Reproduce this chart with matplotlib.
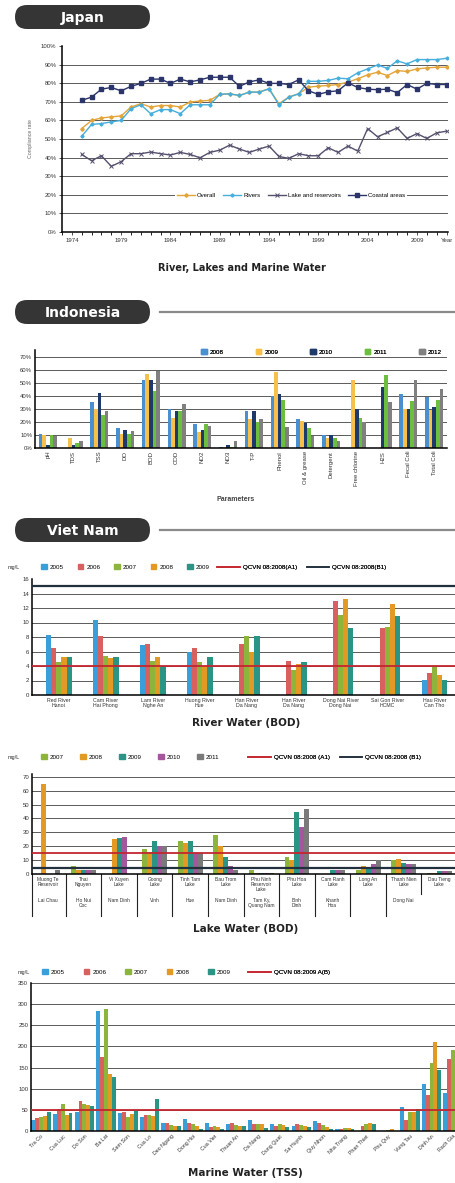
import numpy as np
import matplotlib
matplotlib.use('Agg')
import matplotlib.pyplot as plt
from matplotlib.patches import FancyBboxPatch, Patch
from matplotlib.lines import Line2D

plt.rcParams['font.family'] = ['Liberation Sans', 'DejaVu Sans']

W, H = 455, 1183

# ---------------- Japan: compliance rate (%)
jp_years = list(range(1975, 2013))
jp_overall = [55.6, 60, 61.3, 61.9, 62.4, 67.2, 69, 67.2, 68, 68, 67.2, 69.9, 70.4, 70.8,
              74, 74.3, 73.4, 75.2, 75.2, 77, 69, 72.5, 74.3, 77.9, 78.4, 78.8, 79.3, 80.6,
              82.4, 84.5, 85.9, 84.1, 86.8, 86.3, 87.7, 88.2, 88.6, 88.6]
jp_rivers = [51.5, 57.8, 58.3, 59.2, 60, 66.3, 68.4, 63.6, 65.8, 65.8, 63.6, 68.4, 68.4, 68.4,
             74, 74.3, 73.4, 75.2, 75.2, 77, 68.4, 72.5, 74.3, 81, 81, 81.5, 82.7, 82.4,
             85.6, 87.7, 89.8, 88, 92, 90.4, 92.7, 92.7, 92.7, 93.4]
jp_lakes = [41.7, 38.3, 41, 35.3, 37.8, 42.1, 42.1, 43, 42.1, 41.4, 42.8, 41.7, 39.9, 42.8,
            44, 46.7, 44.6, 42.8, 44.6, 46.2, 40.6, 39.6, 42.1, 41, 41, 45.3, 42.8, 46.2,
            43.5, 55.6, 51.2, 53.5, 56, 50.3, 52.9, 50.3, 53.3, 54.2]
jp_coastal = [70.8, 72.5, 76.8, 77.7, 75.9, 78.3, 79.9, 82.2, 82.2, 79.9, 82.2, 80.7, 81.8, 83.2,
              83.2, 83.2, 78.3, 80.7, 81.8, 79.9, 79.9, 79.3, 81.8, 75.9, 74, 75.4, 75.9, 80.2,
              77.7, 76.8, 76.5, 76.8, 74.9, 79.3, 76.8, 79.9, 79.3, 79.3]
jp_ticks = [1974, 1979, 1984, 1989, 1994, 1999, 2004, 2009, 2012]
jp_ticklabels = ['1974', '1979', '1984', '1989', '1994', '1999', '2004', '2009', 'Year']

# ---------------- Indonesia: % exceeding
id_params = ['pH', 'TDS', 'TSS', 'DO', 'BOD', 'COD', 'NO2', 'NO3', 'T-P', 'Phenol',
             'Oil & grease', 'Detergent', 'Free chlorine', 'H2S', 'Fecal Coli', 'Total Coli']
id_years = ['2008', '2009', '2010', '2011', '2012']
id_2008 = [11, 0, 35, 15, 52, 30, 18, 1, 28, 40, 22, 10, 0, 0, 41, 39]
id_2009 = [10, 7.5, 30, 11, 57, 23, 12.5, 1, 22, 58, 21, 8, 52, 0, 30, 29]
id_2010 = [2.5, 2.5, 42, 14, 52, 28, 14, 2.5, 28, 41, 19, 10, 30, 47, 30, 31]
id_2011 = [10, 3.5, 25, 11, 44, 28, 18, 1, 20, 37, 15, 8, 23, 56, 36, 37]
id_2012 = [9, 5, 28, 13, 59, 34, 17, 5, 22, 16, 9, 5.5, 20, 35, 52, 45]

# ---------------- Viet Nam: river water BOD (mg/L)
rv_names = ['Red River\nHanoi', 'Cam River\nHai Phong', 'Lam River\nNghe An', 'Huong River\nHue',
            'Han River\nDa Nang', 'Han River\nDa Nang', 'Dong Nai River\nDong Nai',
            'Sai Gon River\nHCMC', 'Hau River\nCan Tho']
rv_years = ['2005', '2006', '2007', '2008', '2009']
rv_2005 = [8.3, 10.3, 6.9, 5.9, 0, 0, 0, 0, 2.1]
rv_2006 = [6.5, 8.1, 7.1, 6.5, 7.1, 4.7, 13.0, 9.2, 3.0]
rv_2007 = [4.5, 5.4, 4.7, 4.5, 8.1, 3.4, 11.1, 9.4, 3.9]
rv_2008 = [5.2, 5.1, 5.2, 4.0, 6.0, 4.3, 13.3, 12.6, 2.8]
rv_2009 = [5.2, 5.2, 4.0, 5.2, 8.1, 4.5, 9.2, 10.9, 2.1]
rv_limits = {'QCVN 08:2008(A1)': 4, 'QCVN 08:2008(B1)': 15}

# ---------------- Viet Nam: lake water BOD (mg/L)
lk_names = ['Muong Te\nReservoir', 'Thai\nNguyen', 'Vi Xuyen\nLake', 'Goong\nLake', 'Tinh Tam\nLake',
            'Bau Trom\nLake', 'Phu Ninh\nReservoir\nLake', 'Phu Hoa\nLake', 'Cam Ranh\nLake',
            'Long An\nLake', 'Thanh Nien\nLake', 'Dau Tieng\nLake']
lk_places = ['Lai Chau', 'Ho Nui\nCoc', 'Nam Dinh', 'Vinh', 'Hue', 'Nam Dinh', 'Tam Ky,\nQuang Nam',
             'Binh\nDinh', 'Khanh\nHoa', '', 'Dong Nai', '']
lk_years = ['2007', '2008', '2009', '2010', '2011']
lk_2007 = [0, 6, 0, 18, 24, 28, 3, 12, 0, 3, 10, 1]
lk_2008 = [65, 3, 25, 16, 22, 20, 1, 10, 0, 6, 11, 1]
lk_2009 = [0, 3, 26, 24, 24, 12, 1, 45, 3, 4, 8, 2]
lk_2010 = [0, 3, 27, 20, 15, 6, 1, 34, 3, 7, 7, 2]
lk_2011 = [3, 3, 0, 20, 15, 3, 1, 47, 3, 10, 7, 2]
lk_limits = {'QCVN 08:2008 (A1)': 15, 'QCVN 08:2008 (B1)': 4}

# ---------------- Viet Nam: marine water TSS (mg/L)
mr_names = ['Tra Co', 'Cua Luc', 'Do Son', 'Ba Lat', 'Sam Son', 'Cua Lo', 'Deo Ngang', 'Dong Hoi',
            'Cua Viet', 'Thuan An', 'Da Nang', 'Dung Quat', 'Sa Huynh', 'Quy Nhon', 'Nha Trang',
            'Phan Thiet', 'Phu Quy', 'Vung Tau', 'Dinh An', 'Rach Gia']
mr_years = ['2005', '2006', '2007', '2008', '2009']
mr_2005 = [27, 40, 45, 283, 42, 32, 20, 28, 20, 17, 27, 16, 13, 23, 5, 0, 1, 57, 112, 90]
mr_2006 = [30, 52, 72, 175, 46, 38, 20, 20, 10, 20, 17, 12, 16, 20, 5, 12, 1, 27, 85, 170]
mr_2007 = [32, 64, 65, 288, 33, 38, 14, 16, 13, 14, 17, 16, 14, 15, 7, 16, 2, 45, 160, 192]
mr_2008 = [35, 37, 62, 134, 40, 35, 12, 13, 10, 13, 17, 14, 11, 10, 6, 20, 4, 45, 210, 150]
mr_2009 = [45, 42, 60, 127, 50, 75, 12, 5, 5, 13, 8, 10, 10, 5, 5, 17, 1, 52, 145, 120]
mr_limit = 50

ID_COLORS = ['#4a8fd0', '#f6c04a', '#1d3a6b', '#6cbf3e', '#808080']
VN_COLORS = {'2005': '#3a9fd8', '2006': '#d8605f', '2007': '#8db53c', '2008': '#e39a25',
             '2009': '#2b9585', '2010': '#a3589e', '2011': '#7a7a7a'}
RED, DARK = '#c4262e', '#22303d'


def px_box(l, t, r, b):
    return [l / W, 1 - b / H, (r - l) / W, (b - t) / H]


def banner(cv, y, text, line=True):
    cv.add_patch(FancyBboxPatch((15, y), 135, 24, boxstyle='round,pad=0,rounding_size=12',
                                fc='#353535', ec='none'))
    cv.text(83, y + 12.5, text, color='white', fontsize=10, fontweight='bold',
            ha='center', va='center', family='DejaVu Sans')
    if line:
        cv.plot([160, 455], [y + 12, y + 12], color='#8a8a8a', lw=1.6)


def style(ax, gridvals, fs=4.3):
    for s in ['top', 'right']:
        ax.spines[s].set_visible(False)
    ax.spines['left'].set_linewidth(1.1)
    ax.spines['bottom'].set_linewidth(1.1)
    ax.tick_params(labelsize=fs, length=0, pad=2, colors='#333')
    ax.set_facecolor('none')
    for v in gridvals:
        ax.axhline(v, color='#5a5a5a', lw=0.7, zorder=0)


def bars(ax, series, colors, width):
    n = len(series)
    x = np.arange(len(series[0]))
    for i in range(n):
        ax.bar(x + (i - (n - 1) / 2) * width, series[i], width, color=colors[i], lw=0, zorder=2)
    return x


def bar_legend(ax, cv, labels, colors, x, y, cs, fs=4.5):
    h = [Patch(color=c) for c in colors]
    leg = ax.legend(h, labels, ncol=len(h), loc='center left', bbox_to_anchor=(x, y),
                    bbox_transform=cv.transData, frameon=False, fontsize=fs,
                    handlelength=0.9, handleheight=0.9, handletextpad=0.5,
                    columnspacing=cs, borderpad=0, borderaxespad=0)
    ax.add_artist(leg)


def line_legend(ax, cv, labels, colors, x, y, cs, fs=4.5):
    h = [Line2D([], [], color=c, lw=1.2) for c in colors]
    leg = ax.legend(h, labels, ncol=len(h), loc='center left', bbox_to_anchor=(x, y),
                    bbox_transform=cv.transData, frameon=False, fontsize=fs,
                    handlelength=3.6, handletextpad=0.5, columnspacing=cs,
                    borderpad=0, borderaxespad=0)
    ax.add_artist(leg)


fig = plt.figure(figsize=(W / 100, H / 100), dpi=100)
cv = fig.add_axes([0, 0, 1, 1], zorder=-10)
cv.set_xlim(0, W)
cv.set_ylim(H, 0)
cv.axis('off')

# ======== Japan
banner(cv, 5, 'Japan', line=False)
ax = fig.add_axes(px_box(62, 46, 448, 232))
style(ax, range(10, 100, 10))
ax.plot(jp_years, jp_overall, color='#e3a53a', marker='D', ms=1.8, lw=1.0, label='Overall', zorder=3)
ax.plot(jp_years, jp_rivers, color='#45aedb', marker='D', ms=1.6, lw=1.0, label='Rivers', zorder=3)
ax.plot(jp_years, jp_lakes, color='#55506e', marker='x', ms=2.2, mew=0.7, lw=1.0,
        label='Lake and reservoirs', zorder=3)
ax.plot(jp_years, jp_coastal, color='#2b356a', marker='s', ms=2.2, lw=1.0, label='Coastal areas', zorder=3)
ax.set_ylim(0, 100)
ax.set_yticks(range(0, 101, 10))
ax.set_yticklabels(['%d%%' % v for v in range(0, 101, 10)])
ax.set_xlim(1973, 2012.15)
ax.set_xticks(jp_ticks)
ax.set_xticklabels(jp_ticklabels)
ax.set_xticks(range(1973, 2013), minor=True)
ax.tick_params(axis='both', which='both', length=2, width=0.6, direction='out')
ax.set_ylabel('Compliance rate', fontsize=3.8, color='#666', labelpad=6)
ax.legend(ncol=4, loc='center', bbox_to_anchor=(291, 195), bbox_transform=cv.transData,
          fontsize=4.3, frameon=True, facecolor='white', edgecolor='none', framealpha=1,
          handlelength=3, handletextpad=0.3, columnspacing=1.3, borderpad=0.3)
cv.text(242, 268, 'River, Lakes and Marine Water', fontsize=7, fontweight='bold',
        ha='center', va='center', family='DejaVu Sans', color='#222')

# ======== Indonesia
banner(cv, 300, 'Indonesia')
ax = fig.add_axes(px_box(35, 350, 447, 448))
style(ax, range(10, 80, 10))
x = bars(ax, [id_2008, id_2009, id_2010, id_2011, id_2012], ID_COLORS, 0.14)
ax.set_ylim(0, 75)
ax.set_xlim(-0.5, 15.5)
ax.set_yticks(range(0, 80, 10))
ax.set_yticklabels(['%d%%' % v for v in range(0, 80, 10)])
ax.set_xticks(x)
ax.set_xticklabels(id_params, rotation=90)
bar_legend(ax, cv, id_years, ID_COLORS, 201, 352, 5.1)
cv.text(236, 499, 'Parameters', fontsize=5, fontweight='bold', ha='center', va='center', color='#444')

# ======== Viet Nam - rivers
banner(cv, 518, 'Viet Nam')
ax = fig.add_axes(px_box(32, 579, 458, 695))
style(ax, range(2, 16, 2))
x = bars(ax, [rv_2005, rv_2006, rv_2007, rv_2008, rv_2009], [VN_COLORS[y] for y in rv_years], 0.11)
for (name, v), c in zip(rv_limits.items(), [RED, DARK]):
    ax.axhline(v, color=c, lw=1.3 if c == RED else 1.6, zorder=3)
ax.set_ylim(0, 16)
ax.set_xlim(-0.57, 8.5)
ax.set_yticks(range(0, 17, 2))
ax.set_xticks(x)
ax.set_xticklabels(rv_names, fontsize=3.8, linespacing=1.0)
cv.text(8, 567, 'mg/L', fontsize=4, va='center', color='#333')
bar_legend(ax, cv, rv_years, [VN_COLORS[y] for y in rv_years], 41, 567, 2.2)
line_legend(ax, cv, list(rv_limits), [RED, DARK], 217, 567, 1.6)
cv.text(246, 723, 'River Water (BOD)', fontsize=7.5, fontweight='bold', ha='center', va='center',
        family='DejaVu Sans', color='#222')

# ======== Viet Nam - lakes
ax = fig.add_axes(px_box(32, 774, 457, 874))
style(ax, range(10, 80, 10))
x = bars(ax, [lk_2007, lk_2008, lk_2009, lk_2010, lk_2011], [VN_COLORS[y] for y in lk_years], 0.14)
for (name, v), c in zip(lk_limits.items(), [RED, DARK]):
    ax.axhline(v, color=c, lw=1.3 if c == RED else 1.6, zorder=3)
ax.set_ylim(0, 72)
ax.set_xlim(-0.45, 11.5)
ax.set_yticks(range(0, 71, 10))
ax.set_xticks([])
tr = ax.get_xaxis_transform()
for i, (nm, pl) in enumerate(zip(lk_names, lk_places)):
    ax.text(i, -0.03, nm, transform=tr, fontsize=3.5, ha='center', va='top', linespacing=1.0, color='#333')
    ax.text(i, -0.24, pl, transform=tr, fontsize=3.5, ha='center', va='top', linespacing=1.0, color='#333')
# separators of the label table
for sx in [-0.45] + [k + 0.5 for k in range(10)]:
    ax.plot([sx, sx], [0, -0.42], transform=tr, color='#222', lw=0.8, clip_on=False)
ax.plot([10.5, 10.5], [0, -0.2], transform=tr, color='#222', lw=0.8, clip_on=False)
cv.text(8, 757, 'mg/L', fontsize=4, va='center', color='#333')
bar_legend(ax, cv, lk_years, [VN_COLORS[y] for y in lk_years], 41, 757, 2.6)
line_legend(ax, cv, list(lk_limits), [RED, DARK], 248, 757, 1.6)
cv.text(246, 929, 'Lake Water (BOD)', fontsize=7.5, fontweight='bold', ha='center', va='center',
        family='DejaVu Sans', color='#222')

# ======== Viet Nam - marine
ax = fig.add_axes(px_box(31, 983, 464, 1131))
style(ax, range(50, 351, 50))
x = bars(ax, [mr_2005, mr_2006, mr_2007, mr_2008, mr_2009], [VN_COLORS[y] for y in mr_years], 0.18)
ax.axhline(mr_limit, color=RED, lw=1.3, zorder=3)
ax.set_ylim(0, 350)
ax.set_xlim(-0.46, 19.5)
ax.set_yticks(range(0, 351, 50))
ax.set_xticks(x)
ax.set_xticklabels(mr_names, rotation=45, ha='right', rotation_mode='anchor', fontsize=3.8)
cv.text(18, 972, 'mg/L', fontsize=4, va='center', color='#333')
bar_legend(ax, cv, mr_years, [VN_COLORS[y] for y in mr_years], 42, 972, 3.0)
line_legend(ax, cv, ['QCVN 08:2009 A(B)'], [RED], 248, 972, 1.6)
cv.text(245, 1173, 'Marine Water (TSS)', fontsize=7.5, fontweight='bold', ha='center', va='center',
        family='DejaVu Sans', color='#222')

fig.savefig('out.png', dpi=100)
